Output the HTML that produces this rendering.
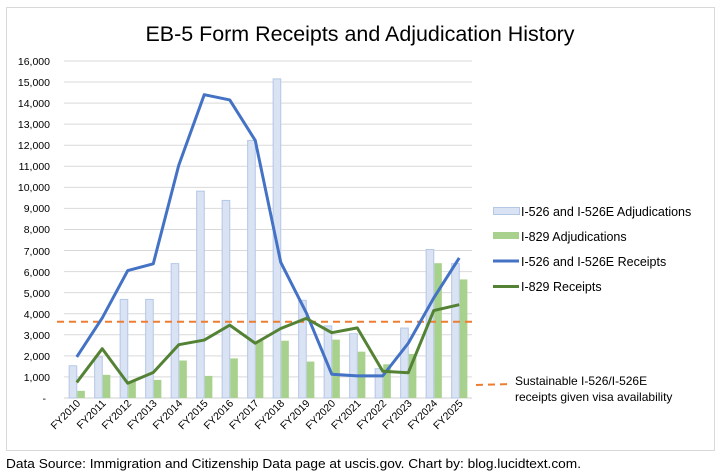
<!DOCTYPE html>
<html><head><meta charset="utf-8"><style>
body{margin:0;background:#fff;}
svg{display:block;font-family:"Liberation Sans",sans-serif;}
</style></head><body>
<svg id="s" width="720" height="476" viewBox="0 0 720 476">
<rect x="0" y="0" width="720" height="476" fill="#fff"/>
<rect x="6.5" y="7.5" width="708" height="443" fill="#fff" stroke="#d9d9d9" stroke-width="1"/>
<text x="360" y="41" font-size="21" text-anchor="middle" textLength="429" lengthAdjust="spacingAndGlyphs" fill="#000">EB-5 Form Receipts and Adjudication History</text>
<g id="grid"></g>
<g font-size="10.5" text-anchor="end" fill="#000">
<text x="50" y="65">16,000</text><text x="50" y="86">15,000</text><text x="50" y="107">14,000</text><text x="50" y="128">13,000</text><text x="50" y="149">12,000</text><text x="50" y="170">11,000</text><text x="50" y="191">10,000</text><text x="50" y="212">9,000</text><text x="50" y="233">8,000</text><text x="50" y="255">7,000</text><text x="50" y="276">6,000</text><text x="50" y="297">5,000</text><text x="50" y="318">4,000</text><text x="50" y="339">3,000</text><text x="50" y="360">2,000</text><text x="50" y="381">1,000</text><text x="46" y="402">-</text>
</g>
<g id="bars"></g>
<g id="lines"></g>
<g font-size="10.5" fill="#000" id="xl">
<text transform="translate(81,404) rotate(-45)" text-anchor="end">FY2010</text>
<text transform="translate(106.5,404) rotate(-45)" text-anchor="end">FY2011</text>
<text transform="translate(132,404) rotate(-45)" text-anchor="end">FY2012</text>
<text transform="translate(157.5,404) rotate(-45)" text-anchor="end">FY2013</text>
<text transform="translate(183,404) rotate(-45)" text-anchor="end">FY2014</text>
<text transform="translate(208.5,404) rotate(-45)" text-anchor="end">FY2015</text>
<text transform="translate(234,404) rotate(-45)" text-anchor="end">FY2016</text>
<text transform="translate(259.5,404) rotate(-45)" text-anchor="end">FY2017</text>
<text transform="translate(285,404) rotate(-45)" text-anchor="end">FY2018</text>
<text transform="translate(310.5,404) rotate(-45)" text-anchor="end">FY2019</text>
<text transform="translate(336,404) rotate(-45)" text-anchor="end">FY2020</text>
<text transform="translate(361.5,404) rotate(-45)" text-anchor="end">FY2021</text>
<text transform="translate(387,404) rotate(-45)" text-anchor="end">FY2022</text>
<text transform="translate(412.5,404) rotate(-45)" text-anchor="end">FY2023</text>
<text transform="translate(438,404) rotate(-45)" text-anchor="end">FY2024</text>
<text transform="translate(463.5,404) rotate(-45)" text-anchor="end">FY2025</text>
</g>
<g font-size="12.5" fill="#000">
<rect x="493.5" y="207.5" width="26" height="7" fill="#dae3f3" stroke="#b4c7e7"/>
<text x="521" y="216">I-526 and I-526E Adjudications</text>
<rect x="493" y="232" width="26" height="7" fill="#a9d18e"/>
<text x="521" y="241">I-829 Adjudications</text>
<line x1="493" y1="261" x2="519" y2="261" stroke="#4472c4" stroke-width="3"/>
<text x="521" y="266">I-526 and I-526E Receipts</text>
<line x1="493" y1="286.5" x2="519" y2="286.5" stroke="#548235" stroke-width="3"/>
<text x="521" y="291">I-829 Receipts</text>
<line x1="476" y1="385" x2="512" y2="384" stroke="#ed7d31" stroke-width="2" stroke-dasharray="7,5"/>
<text x="515" y="385" font-size="12">Sustainable I-526/I-526E</text>
<text x="515" y="401" font-size="12">receipts given visa availability</text>
</g>
<text x="6" y="468" font-size="12.5" fill="#000" textLength="575" lengthAdjust="spacingAndGlyphs">Data Source: Immigration and Citizenship Data page at uscis.gov. Chart by: blog.lucidtext.com.</text>
</svg>
<script>
var NS="http://www.w3.org/2000/svg";
function Y(v){return 398-v*0.021063;}
function X(i){return 64+12.75+25.5*i;}
function el(p,t,a){var e=document.createElementNS(NS,t);for(var k in a)e.setAttribute(k,a[k]);document.getElementById(p).appendChild(e);return e;}
for(var k=0;k<=16;k++){var y=Y(k*1000);el("grid","line",{x1:64,x2:472,y1:y,y2:y,stroke:k==0?"#d0d0d0":"#d9d9d9","stroke-width":1});}
var b1=[1530,1950,4680,4680,6380,9820,9380,12230,15150,4640,3420,3050,1390,3320,7050,6380];
var b2=[340,1100,800,860,1780,1050,1880,2720,2720,1730,2770,2200,1600,2090,6400,5630];
var l1=[1950,3800,6050,6370,11050,14400,14150,12230,6440,4050,1130,1050,1050,2600,4750,6650];
var l2=[740,2340,700,1210,2530,2750,3460,2600,3300,3780,3100,3330,1270,1200,4150,4430];
for(var i=0;i<16;i++){var c=X(i);
el("bars","rect",{x:c-7.6,y:Y(b1[i]),width:7.6,height:398-Y(b1[i]),fill:"#dae3f3",stroke:"#b4c7e7","stroke-width":1});
el("bars","rect",{x:c+0.5,y:Y(b2[i]),width:7.6,height:398-Y(b2[i]),fill:"#a9d18e"});}
el("lines","line",{x1:57,x2:472,y1:Y(3620),y2:Y(3620),stroke:"#ed7d31","stroke-width":2,"stroke-dasharray":"7,5"});
function pl(d,col){var p=d.map(function(v,i){return X(i)+","+Y(v);}).join(" ");el("lines","polyline",{points:p,fill:"none",stroke:col,"stroke-width":3,"stroke-linejoin":"round"});}
pl(l1,"#4472c4");pl(l2,"#548235");
</script>
</body></html>
